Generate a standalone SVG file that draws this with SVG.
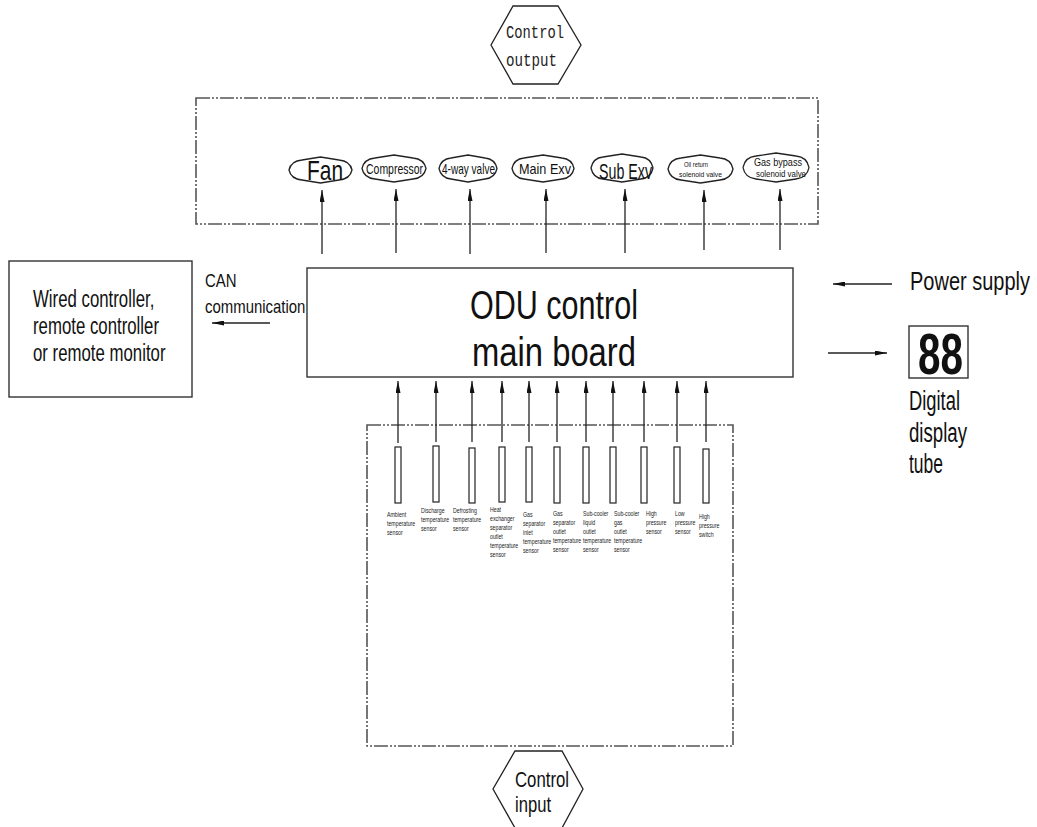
<svg xmlns="http://www.w3.org/2000/svg" width="1037" height="827" viewBox="0 0 1037 827">
<defs>
<marker id="ah" viewBox="0 0 12 5" markerUnits="userSpaceOnUse" markerWidth="12" markerHeight="5" refX="12" refY="2.5" orient="auto">
<path d="M0,0 L12,2.5 L0,5 Z" fill="#111"/>
</marker>
</defs>
<style>
.bx{fill:none;stroke:#333;stroke-width:1.4}
.dash{fill:none;stroke:#555;stroke-width:1.6;stroke-dasharray:14 2 2 2 2 2}
.sh{fill:#fff;stroke:#222;stroke-width:1.3}
.t{font-family:"Liberation Sans",Arial,sans-serif;fill:#111}
.m{font-family:"Liberation Mono","Courier New",monospace;fill:#222}
.c line{stroke:#222;stroke-width:1.3;marker-end:url(#ah)}
.s{font-family:"Liberation Sans",Arial,sans-serif;font-size:7px;fill:#222}
.sr{fill:#fff;stroke:#222;stroke-width:1.2}
</style>
<rect width="1037" height="827" fill="#fff"/>

<g id="control-output">
<polygon class="sh" points="513,6 558,6 581,45 558,84 513,84 491,45"/>
<text class="m" x="506" y="38" font-size="18" textLength="58" lengthAdjust="spacingAndGlyphs">Control</text>
<text class="m" x="506" y="66" font-size="18" textLength="51" lengthAdjust="spacingAndGlyphs">output</text>
</g>

<g id="output-box">
<rect class="dash" x="196" y="98" width="622" height="126"/>
</g>

<g id="fan">
<path class="sh" d="M289,170 Q291,161 302,160 L320.5,157 L339,160 Q350,161 352,170 Q350,179 339,180 L320.5,183 L302,180 Q291,179 289,170Z"/>
<text class="t" x="307" y="180" font-size="28" textLength="36" lengthAdjust="spacingAndGlyphs">Fan</text>
</g>
<g id="compressor">
<path class="sh" d="M362,168.5 Q364,159 375,158 L394,155 L413,158 Q424,159 426,168.5 Q424,178 413,179 L394,182 L375,179 Q364,178 362,168.5Z"/>
<text class="t" x="366" y="174" font-size="15" textLength="57" lengthAdjust="spacingAndGlyphs">Compressor</text>
</g>
<g id="four-way-valve">
<path class="sh" d="M439,168.5 Q441,159 451,158 L468,155 L485,158 Q495,159 497,168.5 Q495,178 485,179 L468,182 L451,179 Q441,178 439,168.5Z"/>
<text class="t" x="442" y="174" font-size="15" textLength="53" lengthAdjust="spacingAndGlyphs">4-way valve</text>
</g>
<g id="main-exv">
<path class="sh" d="M512,168.5 Q514,159 524,158 L543,155 L562,158 Q572,159 574,168.5 Q572,178 562,179 L543,182 L524,179 Q514,178 512,168.5Z"/>
<text class="t" x="519" y="174" font-size="15" textLength="52" lengthAdjust="spacingAndGlyphs">Main Exv</text>
</g>
<g id="sub-exv">
<path class="sh" d="M591,168 Q593,158 603,157 L622,154 L641,157 Q651,158 653,168 Q651,178 641,179 L622,182 L603,179 Q593,178 591,168Z"/>
<text class="t" x="599" y="179" font-size="22" textLength="53" lengthAdjust="spacingAndGlyphs">Sub Exv</text>
</g>
<g id="oil-return">
<path class="sh" d="M668,169 Q670,159 681,158 L700.5,155 L720,158 Q731,159 733,169 Q731,179 720,180 L700.5,183 L681,180 Q670,179 668,169Z"/>
<text class="t" x="684" y="167" font-size="8" textLength="24" lengthAdjust="spacingAndGlyphs">Oil return</text>
<text class="t" x="679" y="177" font-size="8" textLength="43" lengthAdjust="spacingAndGlyphs">solenoid valve</text>
</g>
<g id="gas-bypass">
<path class="sh" d="M743,167.5 Q745,157 756,156 L776,153 L796,156 Q807,157 809,167.5 Q807,178 796,179 L776,182 L756,179 Q745,178 743,167.5Z"/>
<text class="t" x="754" y="166" font-size="10" textLength="48" lengthAdjust="spacingAndGlyphs">Gas bypass</text>
<text class="t" x="756" y="177" font-size="9" textLength="50" lengthAdjust="spacingAndGlyphs">solenoid valve</text>
</g>

<g id="main-board">
<rect class="bx" x="307" y="268" width="486" height="109"/>
<text class="t" x="470" y="319" font-size="40" textLength="168" lengthAdjust="spacingAndGlyphs">ODU control</text>
<text class="t" x="472" y="366" font-size="40" textLength="164" lengthAdjust="spacingAndGlyphs">main board</text>
</g>

<g id="remote">
<rect class="bx" x="9" y="261" width="183" height="136"/>
<g transform="translate(33,0) scale(0.7,1)">
<text class="t" x="0" y="307" font-size="24">Wired controller,</text>
<text class="t" x="0" y="334" font-size="24">remote controller</text>
<text class="t" x="0" y="361" font-size="24">or remote monitor</text>
</g>
</g>

<g id="can-label">
<g transform="translate(205,0) scale(0.83,1)">
<text class="t" x="0" y="287" font-size="18">CAN</text>
<text class="t" x="0" y="313" font-size="18">communication</text>
</g>
</g>

<g id="power-supply">
<text class="t" font-size="25" transform="translate(910,290) scale(0.8,1)">Power supply</text>
</g>

<g id="digital-display">
<rect class="bx" x="909" y="326" width="59" height="52"/>
<text class="t" x="918" y="374" font-size="58" font-weight="bold" textLength="45" lengthAdjust="spacingAndGlyphs">88</text>
<text class="t" x="909" y="410" font-size="27" textLength="51" lengthAdjust="spacingAndGlyphs">Digital</text>
<text class="t" x="909" y="442" font-size="27" textLength="58" lengthAdjust="spacingAndGlyphs">display</text>
<text class="t" x="909" y="473" font-size="27" textLength="34" lengthAdjust="spacingAndGlyphs">tube</text>
</g>

<g id="input-box">
<rect class="dash" x="367" y="425" width="366" height="321"/>
</g>

<g id="sensors">
<g id="s1"><rect class="sr" x="395" y="447" width="6" height="56"/>
<text class="s" transform="translate(387,517) scale(0.75,1)"><tspan x="0">Ambient</tspan><tspan x="0" dy="9">temperature</tspan><tspan x="0" dy="9">sensor</tspan></text></g>
<g id="s2"><rect class="sr" x="433" y="446" width="6" height="56"/>
<text class="s" transform="translate(421,513) scale(0.75,1)"><tspan x="0">Discharge</tspan><tspan x="0" dy="9">temperature</tspan><tspan x="0" dy="9">sensor</tspan></text></g>
<g id="s3"><rect class="sr" x="469" y="448" width="6" height="55"/>
<text class="s" transform="translate(453,513) scale(0.75,1)"><tspan x="0">Defrosting</tspan><tspan x="0" dy="9">temperature</tspan><tspan x="0" dy="9">sensor</tspan></text></g>
<g id="s4"><rect class="sr" x="499" y="447" width="6" height="55"/>
<text class="s" transform="translate(490,512) scale(0.75,1)"><tspan x="0">Heat</tspan><tspan x="0" dy="9">exchanger</tspan><tspan x="0" dy="9">separator</tspan><tspan x="0" dy="9">outlet</tspan><tspan x="0" dy="9">temperature</tspan><tspan x="0" dy="9">sensor</tspan></text></g>
<g id="s5"><rect class="sr" x="526" y="447" width="6" height="55"/>
<text class="s" transform="translate(523,517) scale(0.75,1)"><tspan x="0">Gas</tspan><tspan x="0" dy="9">separator</tspan><tspan x="0" dy="9">inlet</tspan><tspan x="0" dy="9">temperature</tspan><tspan x="0" dy="9">sensor</tspan></text></g>
<g id="s6"><rect class="sr" x="554" y="447" width="6" height="56"/>
<text class="s" transform="translate(553,516) scale(0.75,1)"><tspan x="0">Gas</tspan><tspan x="0" dy="9">separator</tspan><tspan x="0" dy="9">outlet</tspan><tspan x="0" dy="9">temperature</tspan><tspan x="0" dy="9">sensor</tspan></text></g>
<g id="s7"><rect class="sr" x="583" y="447" width="6" height="56"/>
<text class="s" transform="translate(583,516) scale(0.75,1)"><tspan x="0">Sub-cooler</tspan><tspan x="0" dy="9">liquid</tspan><tspan x="0" dy="9">outlet</tspan><tspan x="0" dy="9">temperature</tspan><tspan x="0" dy="9">sensor</tspan></text></g>
<g id="s8"><rect class="sr" x="610" y="447" width="6" height="56"/>
<text class="s" transform="translate(614,516) scale(0.75,1)"><tspan x="0">Sub-cooler</tspan><tspan x="0" dy="9">gas</tspan><tspan x="0" dy="9">outlet</tspan><tspan x="0" dy="9">temperature</tspan><tspan x="0" dy="9">sensor</tspan></text></g>
<g id="s9"><rect class="sr" x="641" y="447" width="6" height="56"/>
<text class="s" transform="translate(646,516) scale(0.75,1)"><tspan x="0">High</tspan><tspan x="0" dy="9">pressure</tspan><tspan x="0" dy="9">sensor</tspan></text></g>
<g id="s10"><rect class="sr" x="674" y="447" width="6" height="56"/>
<text class="s" transform="translate(675,516) scale(0.75,1)"><tspan x="0">Low</tspan><tspan x="0" dy="9">pressure</tspan><tspan x="0" dy="9">sensor</tspan></text></g>
<g id="s11"><rect class="sr" x="703" y="449" width="6" height="54"/>
<text class="s" transform="translate(699,519) scale(0.75,1)"><tspan x="0">High</tspan><tspan x="0" dy="9">pressure</tspan><tspan x="0" dy="9">switch</tspan></text></g>
</g>

<g id="control-input">
<polygon class="sh" points="515,751 562,751 583,789 562,828 515,828 493,789"/>
<text class="t" x="515" y="787" font-size="22" textLength="54" lengthAdjust="spacingAndGlyphs">Control</text>
<text class="t" x="515" y="812" font-size="22" textLength="36" lengthAdjust="spacingAndGlyphs">input</text>
</g>

<g id="connectors" class="c">
<line x1="322" y1="254" x2="322" y2="190"/>
<line x1="396" y1="253" x2="396" y2="189"/>
<line x1="470" y1="254" x2="470" y2="189"/>
<line x1="546" y1="253" x2="546" y2="189"/>
<line x1="625" y1="253" x2="625" y2="189"/>
<line x1="704" y1="250" x2="704" y2="190"/>
<line x1="780" y1="250" x2="780" y2="189"/>
<line x1="398" y1="443" x2="398" y2="381"/>
<line x1="436" y1="442" x2="436" y2="381"/>
<line x1="472" y1="442" x2="472" y2="381"/>
<line x1="502" y1="442" x2="502" y2="381"/>
<line x1="529" y1="442" x2="529" y2="381"/>
<line x1="557" y1="442" x2="557" y2="381"/>
<line x1="586" y1="442" x2="586" y2="381"/>
<line x1="613" y1="442" x2="613" y2="381"/>
<line x1="644" y1="442" x2="644" y2="381"/>
<line x1="677" y1="442" x2="677" y2="381"/>
<line x1="706" y1="442" x2="706" y2="381"/>
<line x1="270" y1="323" x2="212" y2="323"/>
<line x1="892" y1="284" x2="833" y2="284"/>
<line x1="828" y1="353" x2="887" y2="353"/>
</g>
</svg>
